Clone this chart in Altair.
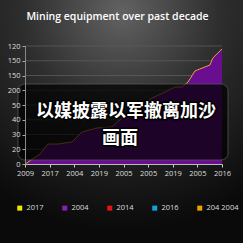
import altair as alt
import pandas as pd

# ---- data ----
x_labels = ["2009", "2017", "2004", "2019", "2005", "2005", "2019", "2005", "2016"]
y_labels = ["0", "20", "30", "40", "50", "200", "150", "150", "120"]
y_ticks = [0, 15, 30, 45, 60, 75, 90, 105, 120]
x_ticks = [0, 1, 2, 3, 4, 5, 6, 7, 8]

pos = [0, 0.61, 0.93, 1.34, 1.91, 2.31, 2.92, 3.53, 3.94, 4.67, 5.16, 5.69,
       6.09, 6.38, 6.62, 6.90, 7.51, 7.63, 8.0]
vals = [0, 10.2, 20.3, 20.3, 22.4, 32.5, 36.6, 37.6, 46.8, 59, 67.1, 73.2,
        78.3, 78.3, 83.4, 94.6, 100.7, 107.8, 117]

legend_names = ["2017", "2004", "2014", "2016", "204 2004"]
legend_colors = ["#f2e600", "#8a1cb8", "#e81212", "#12a2e0", "#f0a000"]

overlay_lines = ["以媒披露以军撤离加沙", "画面"]

df = pd.DataFrame({"x": pos, "v": vals})
grid_df = pd.DataFrame({"t": y_ticks})
leg_df = pd.DataFrame({"s": legend_names})
one = pd.DataFrame({"a": [0]})

x_expr = "[" + ",".join("'%s'" % s for s in x_labels) + "][round(datum.value)]"
y_expr = "[" + ",".join("'%s'" % s for s in y_labels) + "][round(datum.value/15)]"

W, H = 197, 118

bg = alt.Chart(one).mark_rect(
    fill={"gradient": "radial", "x1": 0.5, "y1": 0.05, "x2": 0.5, "y2": 0.05,
          "r1": 0, "r2": 0.9,
          "stops": [{"offset": 0, "color": "#626262"},
                    {"offset": 0.45, "color": "#2e2e2e"},
                    {"offset": 1, "color": "#0a0a0a"}]}
).encode(x=alt.value(-25), x2=alt.value(218), y=alt.value(-46), y2=alt.value(197))

xscale = alt.Scale(domain=[0, 8], nice=False, zero=False)
yscale = alt.Scale(domain=[0, 120], nice=False)

xaxis = alt.Axis(values=x_ticks, labelExpr=x_expr, title=None, grid=False,
                 domainColor="#bbbbbb", tickColor="#cccccc", tickSize=3,
                 labelColor="#dddddd", labelFontSize=7.5, labelFont="Open Sans",
                 labelPadding=2, zindex=1, labelFlush=False, labelOverlap=False)
yaxis = alt.Axis(values=y_ticks, labelExpr=y_expr, title=None, grid=False,
                 domainColor="#888888", tickColor="#aaaaaa", tickSize=3,
                 labelColor="#dddddd",
                 labelFontSize=7.5, labelFont="Open Sans", labelPadding=2, zindex=1,
                 labelOverlap=False)

grid = alt.Chart(grid_df).mark_rule(color="#5a5a5a", strokeWidth=0.8).encode(
    y=alt.Y("t:Q", scale=yscale, axis=yaxis)
)

area = alt.Chart(df).mark_area(color="#6a0d91", opacity=1).encode(
    x=alt.X("x:Q", scale=xscale, axis=xaxis),
    y=alt.Y("v:Q", scale=yscale, axis=yaxis),
)
line = alt.Chart(df).mark_line(color="#e8a33a", strokeWidth=1).encode(
    x=alt.X("x:Q", scale=xscale, axis=xaxis),
    y=alt.Y("v:Q", scale=yscale, axis=yaxis),
)

leg = alt.Chart(leg_df).mark_square(opacity=0, size=1).encode(
    color=alt.Color("s:N", scale=alt.Scale(domain=legend_names, range=legend_colors),
                    sort=legend_names,
                    legend=alt.Legend(title=None, orient="none", legendX=-9, legendY=158,
                                      direction="horizontal", symbolType="square",
                                      symbolSize=25, symbolOpacity=1, symbolStrokeWidth=0,
                                      labelColor="#dddddd", labelFontSize=7.5,
                                      labelFont="Open Sans", labelOffset=3,
                                      columnPadding=17, padding=0))
)

box = alt.Chart(one).mark_rect(fill="#000000", fillOpacity=0.72, stroke="#555555",
                               strokeOpacity=0.8, strokeWidth=1, cornerRadius=7).encode(
    x=alt.value(-7), x2=alt.value(203), y=alt.value(38), y2=alt.value(114)
)

t_df1 = pd.DataFrame({"t": [overlay_lines[0]]})
t_df2 = pd.DataFrame({"t": [overlay_lines[1]]})

def txt(d, xv, yv, outline):
    kw = dict(font="Noto Sans CJK SC", fontSize=18, fontWeight="bold",
              align="center", baseline="middle")
    if outline:
        m = alt.Chart(d).mark_text(fill="#000000", stroke="#000000", strokeWidth=3,
                                   strokeJoin="round", **kw)
    else:
        m = alt.Chart(d).mark_text(fill="#ffffff", **kw)
    return m.encode(text="t:N", x=alt.value(xv), y=alt.value(yv))

texts = [txt(t_df1, 101, 66, True), txt(t_df2, 95, 93, True),
         txt(t_df1, 101, 66, False), txt(t_df2, 95, 93, False)]

chart = alt.layer(bg, grid, area, line, leg, box, *texts).properties(
    width=W, height=H,
    title=alt.TitleParams("Mining equipment over past decade", color="#ffffff",
                          fontSize=10.5, fontWeight=600, font="Open Sans",
                          anchor="middle", frame="group", offset=-22, dx=-6),
    background="#111111",
    padding={"left": 25, "top": 46, "right": 21, "bottom": 79},
    autosize=alt.AutoSizeParams(type="none"),
).configure_view(stroke=None)

chart.save("out.html", embed_options={"renderer": "svg", "actions": False})
